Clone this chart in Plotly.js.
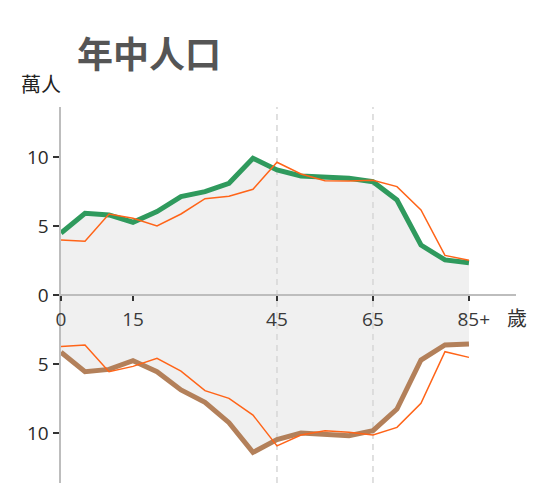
<!DOCTYPE html>
<html>
<head>
<meta charset="utf-8">
<script src="https://cdn.plot.ly/plotly-3.0.1.min.js"></script>
<style>html,body{margin:0;padding:0;background:#fff;}#chart{width:538px;height:490px;}</style>
</head>
<body>
<div id="chart"></div>
<script>
// Age groups (years)
var ages = [0, 5, 10, 15, 20, 25, 30, 35, 40, 45, 50, 55, 60, 65, 70, 75, 80, 85];
// Male population (10k persons) - current
var maleNow = [4.49, 5.92, 5.80, 5.27, 6.04, 7.13, 7.49, 8.09, 9.90, 9.06, 8.62, 8.55, 8.45, 8.21, 6.88, 3.62, 2.54, 2.34];
// Male population - comparison year
var maleRef = [3.99, 3.89, 5.87, 5.56, 5.00, 5.87, 6.98, 7.15, 7.66, 9.62, 8.77, 8.28, 8.26, 8.31, 7.85, 6.16, 2.87, 2.51];
// Female population (10k persons) - current
var femaleNow = [4.15, 5.56, 5.39, 4.76, 5.56, 6.88, 7.78, 9.25, 11.40, 10.48, 10.00, 10.07, 10.19, 9.83, 8.26, 4.71, 3.62, 3.55];
// Female population - comparison year
var femaleRef = [3.74, 3.62, 5.56, 5.17, 4.59, 5.51, 6.93, 7.49, 8.70, 10.93, 10.14, 9.83, 9.95, 10.14, 9.59, 7.85, 4.11, 4.52];
// Axis ticks
var xTickVals = [0, 15, 45, 65, 85];
var xTickText = ['0', '15', '45', '65', '\u200285+'];
var yTickVals = [-10, -5, 0, 5, 10];
var yTickText = ['10', '5', '0', '5', '10'];
var markerAges = [45, 65];

var yMax = 13.62;
var neg = function (a) { return a.map(function (v) { return -v; }); };

var GREEN = '#2f9a5d', BROWN = '#b3805a', ORANGE = '#ff6418';

var guideX = [], guideY = [];
markerAges.forEach(function (a) { guideX.push(a, a, null); guideY.push(-yMax, yMax, null); });

var traces = [
  {x: ages, y: neg(femaleNow), mode: 'lines', line: {width: 0, color: 'rgba(0,0,0,0)'}, hoverinfo: 'skip'},
  {x: ages, y: maleNow, mode: 'lines', line: {width: 0, color: 'rgba(0,0,0,0)'}, fill: 'tonexty', fillcolor: '#f0f0f0', hoverinfo: 'skip'},
  {x: guideX, y: guideY, mode: 'lines', line: {width: 1.5, color: '#d6d6d6', dash: '6px,5px'}, hoverinfo: 'skip'},
  {x: ages, y: maleNow, mode: 'lines', line: {width: 5, color: GREEN}},
  {x: ages, y: neg(femaleNow), mode: 'lines', line: {width: 5, color: BROWN}},
  {x: ages, y: maleRef, mode: 'lines', line: {width: 1.5, color: ORANGE}},
  {x: ages, y: neg(femaleRef), mode: 'lines', line: {width: 1.5, color: ORANGE}}
];

var layout = {
  width: 538, height: 490,
  margin: {l: 61, r: 22, t: 107, b: 7},
  paper_bgcolor: '#fff', plot_bgcolor: '#fff',
  showlegend: false,
  font: {family: '"Open Sans", "Noto Sans CJK TC", sans-serif', color: '#333'},
  title: {
    text: '<b>年中人口</b>',
    font: {family: '"Noto Sans CJK TC", sans-serif', size: 36, color: '#555'},
    x: 77 / 538, xanchor: 'left', xref: 'container',
    y: 1 - 55 / 490, yanchor: 'middle', yref: 'container'
  },
  xaxis: {
    range: [0, 94.8], anchor: 'free', position: 0.5,
    showline: true, linecolor: '#bdbdbd', linewidth: 2,
    ticks: 'outside', ticklen: 5, tickwidth: 2, tickcolor: '#333',
    tickvals: xTickVals, ticktext: xTickText,
    tickfont: {size: 19, color: '#3a3a3a'}, ticklabelstandoff: 2,
    showgrid: false, zeroline: false, fixedrange: true
  },
  yaxis: {
    range: [-yMax, yMax],
    showline: true, linecolor: '#bdbdbd', linewidth: 2.5,
    ticks: 'outside', ticklen: 6, tickwidth: 2, tickcolor: '#333',
    tickvals: yTickVals, ticktext: yTickText,
    tickfont: {size: 19, color: '#2a2a2a'},
    showgrid: false, zeroline: false, fixedrange: true
  },
  annotations: [
    {text: '萬人', xref: 'paper', yref: 'paper', x: (41 - 61) / 455, y: (483 - 83) / 376,
     xanchor: 'center', yanchor: 'middle', showarrow: false,
     font: {family: '"Noto Sans CJK TC", sans-serif', size: 20, color: '#222'}},
    {text: '歲', xref: 'paper', yref: 'paper', x: (517 - 61) / 455, y: (483 - 317) / 376,
     xanchor: 'center', yanchor: 'middle', showarrow: false,
     font: {family: '"Noto Sans CJK TC", sans-serif', size: 20, color: '#333'}}
  ]
};

Plotly.newPlot('chart', traces, layout, {staticPlot: true, displayModeBar: false});
</script>
</body>
</html>
